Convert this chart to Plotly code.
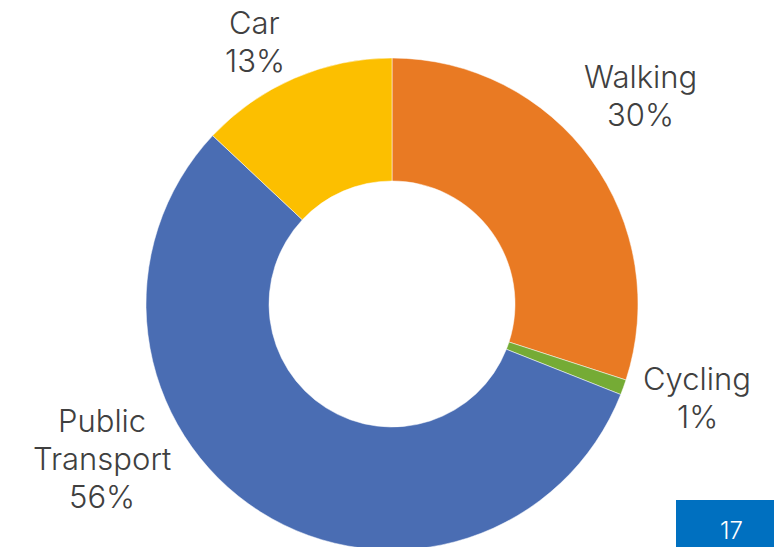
import plotly.graph_objects as go

categories = ["Walking", "Cycling", "Public Transport", "Car"]
values = [30, 1, 56, 13]
label_lines = [["Walking", "30%"], ["Cycling", "1%"], ["Public", "Transport", "56%"], ["Car", "13%"]]
colors = ["#E97A23", "#75AB35", "#4A6DB3", "#FCBF00"]
slide_number = "17"

W, VIEW_H = 774, 547
H = 553  # figure slightly taller than the window so the ring can run off the bottom
cx, cy, r = 392, 304, 246


def px_x(px):
    return px / W


def px_y(py):
    return 1 - py / H


fig = go.Figure(go.Pie(
    labels=categories, values=values, sort=False, direction="clockwise",
    rotation=0, hole=0.5, textinfo="none", hoverinfo="label+percent",
    marker=dict(colors=colors, line=dict(color="white", width=0.5)),
    domain=dict(x=[px_x(cx - r), px_x(cx + r)], y=[px_y(cy + r), px_y(cy - r)]),
    showlegend=False,
))

label_font = dict(family="Inter, Open Sans, sans-serif", size=31, color="#404040", weight=300)
label_pos = [(640, 76), (697, 378), (102, 420), (255, 22)]
step = 38
for lines, (px, py) in zip(label_lines, label_pos):
    for i, line in enumerate(lines):
        fig.add_annotation(x=px_x(px), y=px_y(py + i * step), xref="paper", yref="paper",
                           text=line, showarrow=False, xanchor="center", yanchor="middle",
                           font=label_font)

fig.add_shape(type="rect", xref="paper", yref="paper",
              x0=px_x(676), x1=1.0, y0=px_y(VIEW_H), y1=px_y(500),
              fillcolor="#0070C0", line=dict(width=0))
fig.add_annotation(x=px_x(731), y=px_y(530), xref="paper", yref="paper",
                   text=slide_number, showarrow=False, xanchor="center", yanchor="middle",
                   font=dict(family="Inter, Open Sans, sans-serif", size=24, color="white", weight=300))

fig.update_layout(width=W, height=H, margin=dict(l=0, r=0, t=0, b=0),
                  paper_bgcolor="white", plot_bgcolor="white")
fig.write_html("out.html", config={"displayModeBar": False},
               post_script="document.body.style.margin='0';document.body.style.overflow='hidden';"
                           "document.documentElement.style.overflow='hidden';")
